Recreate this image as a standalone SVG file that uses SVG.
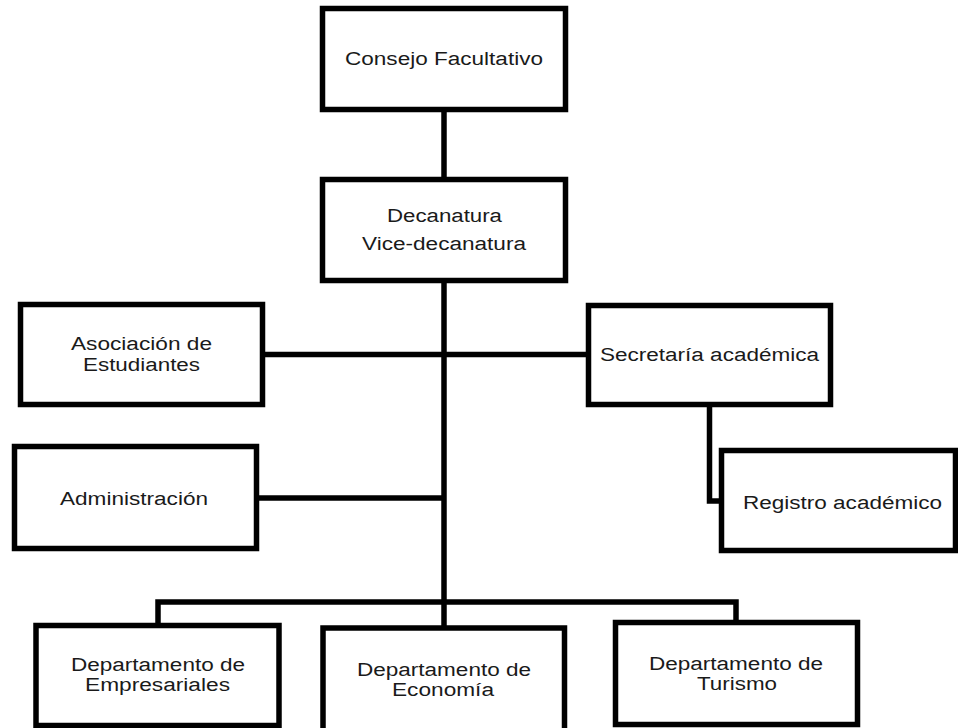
<svg xmlns="http://www.w3.org/2000/svg" width="958" height="728" viewBox="0 0 958 728">
<style>
.box{fill:#fff;stroke:#000;stroke-width:5.5;stroke-linejoin:miter}
.con{fill:none;stroke:#000;stroke-width:5.5;stroke-linejoin:miter;stroke-linecap:butt}
text{font-family:"Liberation Sans",Arial,sans-serif;font-size:18px;fill:#1a1a1a;text-anchor:middle}
</style>
<rect width="958" height="728" fill="#fff"/>
<g id="connectors">
<line class="con" x1="444" y1="110" x2="444" y2="180"/>
<line class="con" x1="444" y1="281" x2="444" y2="629"/>
<line class="con" x1="262" y1="354.5" x2="589" y2="354.5"/>
<line class="con" x1="256" y1="498" x2="444" y2="498"/>
<path class="con" d="M709.5,405 V501 H722"/>
<path class="con" d="M158,626 V602 H736 V623"/>
</g>
<g id="consejo">
<rect class="box" x="322.5" y="8.5" width="243" height="101"/>
<text x="444" y="65" textLength="198" lengthAdjust="spacingAndGlyphs">Consejo Facultativo</text>
</g>
<g id="decanatura">
<rect class="box" x="322.5" y="179.5" width="243" height="101"/>
<text x="444.5" y="222" textLength="115" lengthAdjust="spacingAndGlyphs">Decanatura</text>
<text x="444" y="250" textLength="164" lengthAdjust="spacingAndGlyphs">Vice-decanatura</text>
</g>
<g id="asociacion">
<rect class="box" x="20.5" y="304.5" width="242" height="100"/>
<text x="141.5" y="350" textLength="141" lengthAdjust="spacingAndGlyphs">Asociación de</text>
<text x="141.5" y="371" textLength="117" lengthAdjust="spacingAndGlyphs">Estudiantes</text>
</g>
<g id="secretaria">
<rect class="box" x="588.5" y="305.5" width="242" height="99"/>
<text x="709.5" y="361" textLength="219" lengthAdjust="spacingAndGlyphs">Secretaría académica</text>
</g>
<g id="administracion">
<rect class="box" x="14.5" y="446.5" width="242" height="102"/>
<text x="134" y="505" textLength="148" lengthAdjust="spacingAndGlyphs">Administración</text>
</g>
<g id="registro">
<rect class="box" x="721.5" y="450.5" width="234" height="100"/>
<text x="842.5" y="508.5" textLength="199" lengthAdjust="spacingAndGlyphs">Registro académico</text>
</g>
<g id="empresariales">
<rect class="box" x="36" y="625.5" width="243" height="100"/>
<text x="158" y="671" textLength="174" lengthAdjust="spacingAndGlyphs">Departamento de</text>
<text x="157.5" y="691" textLength="145" lengthAdjust="spacingAndGlyphs">Empresariales</text>
</g>
<g id="economia">
<rect class="box" x="323" y="628" width="241.5" height="106"/>
<text x="444" y="676" textLength="174" lengthAdjust="spacingAndGlyphs">Departamento de</text>
<text x="443" y="696" textLength="102" lengthAdjust="spacingAndGlyphs">Economía</text>
</g>
<g id="turismo">
<rect class="box" x="615.5" y="622.5" width="242" height="102"/>
<text x="736" y="670" textLength="174" lengthAdjust="spacingAndGlyphs">Departamento de</text>
<text x="737" y="690" textLength="80" lengthAdjust="spacingAndGlyphs">Turismo</text>
</g>
</svg>
